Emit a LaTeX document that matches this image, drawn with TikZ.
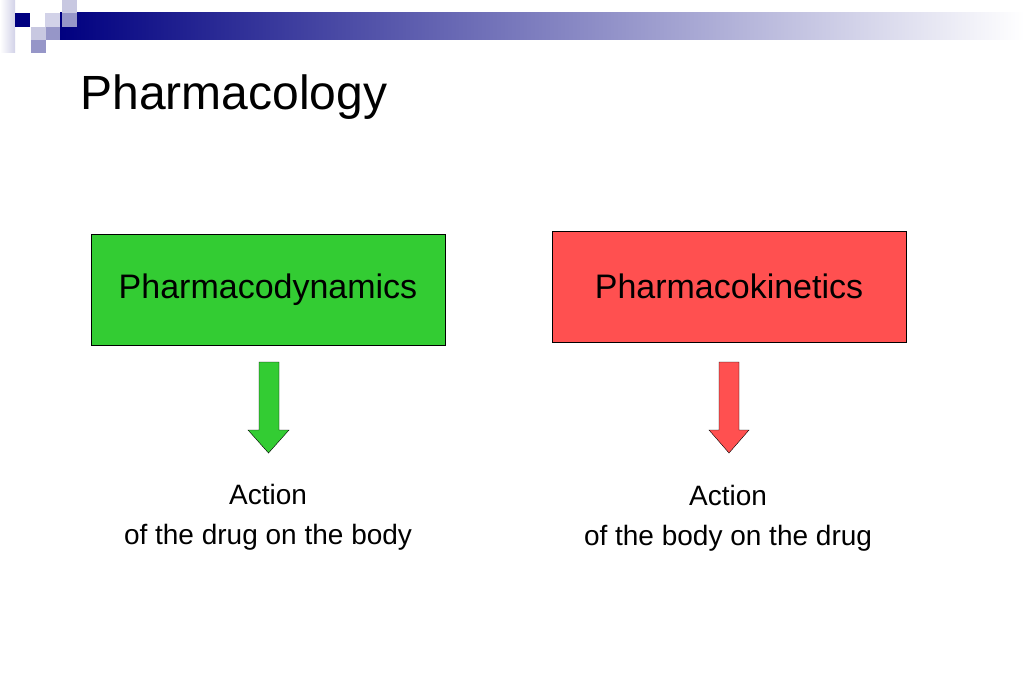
\documentclass[tikz,border=0pt]{standalone}
\usepackage{fontspec}
\setmainfont{Liberation Sans}
\definecolor{navy}{RGB}{0,0,128}
\definecolor{pale}{RGB}{210,210,232}
\definecolor{lilac}{RGB}{200,200,225}
\definecolor{mauve}{RGB}{150,150,200}
\definecolor{pdgreen}{RGB}{51,204,51}
\definecolor{pkred}{RGB}{255,80,80}
\begin{document}
\begin{tikzpicture}[x=1pt, y=-1pt,
	box/.style = {draw = black, thin, minimum width = 354pt, minimum height = 111pt, font = \fontsize{34}{40}\selectfont},
	label/.style = {align = center, font = \fontsize{28}{40}\selectfont}]
	 \useasboundingbox (0, 0) rectangle (1024, 682);
	 % header band
	 \shade[left color = navy, right color = white] (60, 13) rectangle (1024, 40);
	 \shade[left color = white, right color = pale] (0, 0) rectangle (15, 53);
	 \fill[navy] (15, 13) rectangle (30, 27);
	 \fill[lilac] (62, 0) rectangle (77, 13);
	 \fill[pale] (45, 13) rectangle (60, 27);
	 \fill[mauve] (62, 13) rectangle (77, 27);
	 \fill[lilac] (31, 27) rectangle (46, 40);
	 \fill[mauve] (46, 27) rectangle (60, 40);
	 \fill[mauve] (31, 40) rectangle (46, 53);

	 \node[anchor = base west, font = \fontsize{48}{56}\selectfont] (title) at (77, 110) {Pharmacology};

	 \node[box, fill = pdgreen] (pd) at (268, 289.5) {Pharmacodynamics};
	 \node[box, fill = pkred] (pk) at (729, 286.5) {Pharmacokinetics};

	 \draw[thin, fill = pdgreen] (259, 362) -- (279, 362) -- (279, 430) -- (289, 430) -- (268.5, 453) -- (248, 430) -- (259, 430) -- cycle;
	 \draw[thin, fill = pkred] (719, 362) -- (739, 362) -- (739, 430) -- (749, 430) -- (729, 453) -- (709, 430) -- (719, 430) -- cycle;

	 \node[label] (pdtext) at (268, 517) {Action\\of the drug on the body};
	 \node[label] (pktext) at (728, 518) {Action\\of the body on the drug};
\end{tikzpicture}
\end{document}
